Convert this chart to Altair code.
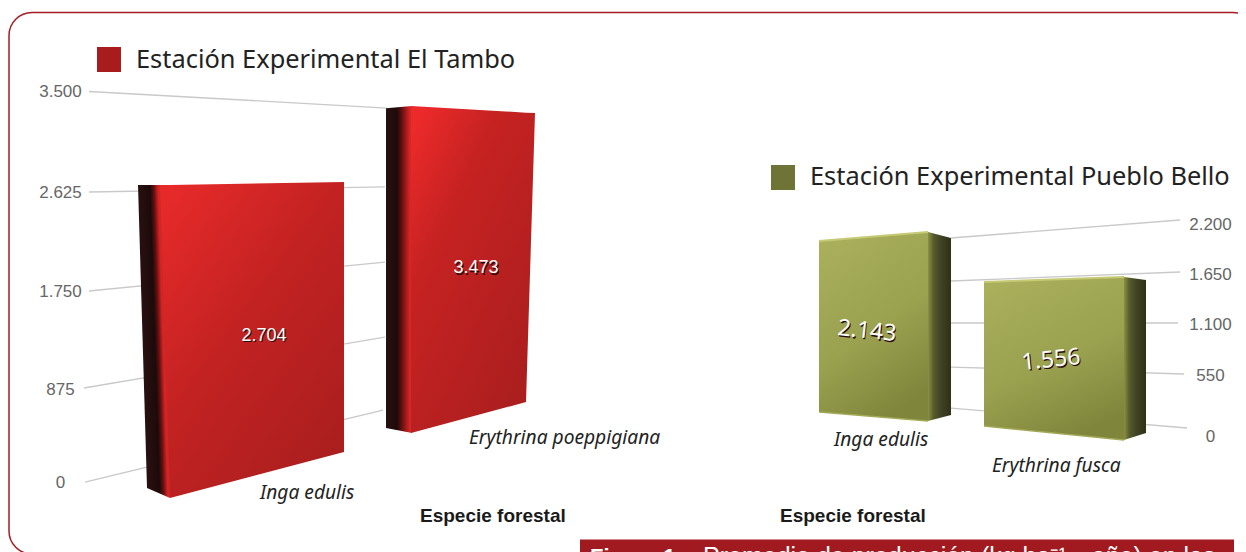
import altair as alt
import pandas as pd

# ---- values ----
left_title = "Estación Experimental El Tambo"
right_title = "Estación Experimental Pueblo Bello"
axis_title = "Especie forestal"
left_species = ["Inga edulis", "Erythrina poeppigiana"]
left_values = [2704, 3473]
left_ticks = [0, 875, 1750, 2625, 3500]
right_species = ["Inga edulis", "Erythrina fusca"]
right_values = [2143, 1556]
right_ticks = [0, 550, 1100, 1650, 2200]
caption_bold = "Figura 1."
caption_rest = "Promedio de producción (kg ha⁻¹\u2003año) en las"

W, H = 1230, 544
RED = "#a81c1e"
OLIVE = "#6f7436"
GREY = "#c9c9c9"


def dotted(v):
    return f"{v:,}".replace(",", ".")


LABEL_EXPR = "replace(format(datum.value, ','), ',', '.')"
X = alt.X("x:Q", scale=alt.Scale(domain=[8, 8 + W], range=[0, W]), axis=None)
YL = alt.Scale(domain=left_ticks, range=[474.5, 381, 283, 184, 83.5])
YR = alt.Scale(domain=right_ticks, range=[428, 367, 316, 266, 216])


def grad(stops, x1=0.0, y1=0.0, x2=1.0, y2=0.0):
    return alt.Gradient(
        gradient="linear", x1=x1, y1=y1, x2=x2, y2=y2,
        stops=[alt.GradientStop(offset=o, color=c) for o, c in stops],
    )


def axis(orient, offset, ticks):
    return alt.Axis(
        orient=orient, offset=offset, values=ticks, labelExpr=LABEL_EXPR,
        labelAlign="center", labelBaseline="middle", labelPadding=0,
        labelFont="Liberation Sans", labelFontSize=17, labelColor="#666666",
        labelOverlap=False, labelFlush=False, labelBound=False,
        ticks=False, domain=False, grid=False, title=None,
    )


AL = axis("left", -52, left_ticks)
AR = axis("right", -(W - 1202), right_ticks)


def face(value, edges, scale, ax, fill):
    """A perspective face of a bar: each edge is (lateral, top factor, base)."""
    rows = []
    for x, f, b in edges:
        top = value * f
        rows.append({"x": x, "top": top, "base": top if b is None else b})
    return (
        alt.Chart(pd.DataFrame(rows))
        .mark_area(fill=fill, interpolate="linear")
        .encode(x=X, y=alt.Y("top:Q", scale=scale, axis=ax), y2=alt.Y2("base:Q"))
    )


def rim(rows, scale, ax, color, width=2.0):
    df = pd.DataFrame([{"x": x, "top": u} for x, u in rows])
    return (
        alt.Chart(df)
        .mark_line(color=color, strokeWidth=width, interpolate="linear")
        .encode(x=X, y=alt.Y("top:Q", scale=scale, axis=ax))
    )


def grid(ticks, spans, scale, ax):
    rows = []
    for t, (x0, u0, x1, u1) in zip(ticks, spans):
        rows += [{"tick": t, "x": x0, "u": u0}, {"tick": t, "x": x1, "u": u1}]
    return (
        alt.Chart(pd.DataFrame(rows))
        .mark_line(color=GREY, strokeWidth=1.3)
        .encode(x=X, y=alt.Y("u:Q", scale=scale, axis=ax), detail="tick:N")
    )


def value_label(value, x, frac, scale, ax, font, size, angle=0):
    df = pd.DataFrame([{"x": x, "u": value * frac, "t": dotted(value)}])
    enc = dict(x=X, y=alt.Y("u:Q", scale=scale, axis=ax), text="t:N")
    base = dict(font=font, fontSize=size, angle=angle, align="center", baseline="middle")
    shadow = alt.Chart(df).mark_text(color="#2a0a0a", dx=1, dy=1.5, **base).encode(**enc)
    front = alt.Chart(df).mark_text(color="#ffffff", **base).encode(**enc)
    return alt.layer(shadow, front)


# ---- left panel ----
red_side = grad([(0, "#2a1010"), (0.34, "#1c0a0a"), (0.45, "#641010"), (0.57, "#d42424"), (1, "#d42424")],
                x2=1.0, y2=-0.31)
red_side2 = grad([(0, "#2a1010"), (0.42, "#1c0a0a"), (0.62, "#6a1010"), (0.92, "#d82626"), (1, "#d82626")])
red_front1 = grad([(0, "#e62a2a"), (0.45, "#c22222"), (1, "#a81e1e")], x1=0.1, y1=0.0, x2=0.9, y2=1.0)
red_front2 = grad([(0, "#ec2a2a"), (0.3, "#c62222"), (1, "#a81e1e")], x1=0.1, y1=0.0, x2=0.9, y2=1.0)

left = alt.layer(
    grid(
        left_ticks,
        [(85, 4, 383, 678), (84, 884, 385, 1339), (89, 1750, 385, 2006),
         (89, 2625, 385, 2669), (89, 3500, 387, 3356)],
        YL, AL,
    ),
    face(left_values[0], [(138, 0.9934, None), (147, 0.9934, -51), (170, 0.9934, -145)], YL, AL, red_side),
    face(left_values[0], [(160, 0.9934, None), (170, 0.9934, -145), (344, 1.003, 285)], YL, AL, red_front1),
    face(left_values[1], [(386, 0.966, 510), (412, 0.9714, 463)], YL, AL, red_side2),
    face(left_values[1], [(411, 0.9714, 463), (526, 0.9548, 753), (535, 0.954, None)], YL, AL, red_front2),
    value_label(left_values[0], 264, 0.5, YL, AL, "Liberation Sans", 18),
    value_label(left_values[1], 476, 0.562, YL, AL, "Liberation Sans", 18),
)

# ---- right panel ----
ol_front = grad([(0, "#a9af5b"), (0.55, "#9aa14f"), (1, "#7f863c")], x1=0.2, y1=0.0, x2=0.6, y2=1.0)
ol_side = grad([(0, "#8a9044"), (0.25, "#565a2c"), (0.6, "#3e4122"), (1, "#2f3118")])
RIM = "#c6ca74"
RIM_LOW = "#a4a956"

right = alt.layer(
    grid(
        right_ticks,
        [(951, 252, 1187, 72), (951, 636, 1184, 561), (951, 1111, 1178, 1111),
         (951, 1573, 1180, 1672), (951, 2046, 1180, 2244)],
        YR, AR,
    ),
    face(right_values[0], [(928, 0.9855, 135), (951, 0.955, 189)], YR, AR, ol_side),
    face(right_values[0], [(819, 0.939, 216), (928, 0.9855, 135)], YR, AR, ol_front),
    rim([(819, right_values[0] * 0.939), (928, right_values[0] * 0.9855)], YR, AR, RIM),
    rim([(819, 216), (928, 135)], YR, AR, RIM_LOW, 1.5),
    face(right_values[1], [(1124, 1.039, -36), (1146, 1.018, 27)], YR, AR, ol_side),
    face(right_values[1], [(984, 1.004, 90), (1124, 1.039, -36)], YR, AR, ol_front),
    rim([(984, right_values[1] * 1.004), (1124, right_values[1] * 1.039)], YR, AR, RIM),
    rim([(984, 90), (1124, -36)], YR, AR, RIM_LOW, 1.5),
    value_label(right_values[0], 867, 0.478, YR, AR, "Noto Sans", 23, angle=6),
    value_label(right_values[1], 1051, 0.458, YR, AR, "Noto Sans", 23, angle=354),
)

# ---- frame, legends, titles ----
one = pd.DataFrame({"a": [0]})
frame = alt.Chart(one).mark_rect(
    fill="transparent", stroke="#a51c24", strokeWidth=1.5, cornerRadius=23
).encode(x=alt.value(1), x2=alt.value(1248), y=alt.value(4.5), y2=alt.value(546))

swatches = alt.layer(
    alt.Chart(one).mark_rect(fill=RED).encode(
        x=alt.value(89), x2=alt.value(113), y=alt.value(39), y2=alt.value(64)
    ),
    alt.Chart(one).mark_rect(fill=OLIVE).encode(
        x=alt.value(763), x2=alt.value(787), y=alt.value(157), y2=alt.value(182)
    ),
)


def text(t, x, y, **kw):
    return alt.Chart(pd.DataFrame({"t": [t]})).mark_text(align="left", baseline="middle", **kw).encode(
        x=alt.value(x), y=alt.value(y), text="t:N"
    )


title_kw = dict(font="Noto Sans", fontSize=25.4, color="#222222")
species_kw = dict(font="Noto Sans", fontSize=19.2, fontStyle="italic", color="#222222")
axis_kw = dict(font="Liberation Sans", fontSize=19, fontWeight="bold", color="#1a1a1a")

labels = alt.layer(
    text(left_title, 128, 52, **title_kw),
    text(right_title, 802, 169, **title_kw),
    text(left_species[0], 252, 485, **species_kw),
    text(left_species[1], 461, 430, **species_kw),
    text(right_species[0], 826, 432, **species_kw),
    text(right_species[1], 984, 458, **species_kw),
    text(axis_title, 412, 508, **axis_kw),
    text(axis_title, 772, 508, **axis_kw),
)

caption = alt.layer(
    alt.Chart(one).mark_rect(fill="#a11a20").encode(
        x=alt.value(572), x2=alt.value(1226), y=alt.value(531.5), y2=alt.value(560)
    ),
    alt.Chart(pd.DataFrame({"t": [caption_bold]})).mark_text(
        align="left", baseline="alphabetic", font="Liberation Sans", fontSize=22,
        fontWeight="bold", color="#ffffff",
    ).encode(x=alt.value(582), y=alt.value(556), text="t:N"),
    alt.Chart(pd.DataFrame({"t": [caption_rest]})).mark_text(
        align="left", baseline="alphabetic", font="Liberation Sans", fontSize=25, color="#ffffff",
    ).encode(x=alt.value(695), y=alt.value(557), text="t:N"),
)

panels = alt.layer(left, right).resolve_scale(y="independent")

chart = (
    alt.layer(frame, swatches, panels, labels, caption)
    .properties(width=W, height=H, padding=0, background="#ffffff",
                autosize=alt.AutoSizeParams(type="none"))
    .configure_view(stroke=None)
)

chart.save("out.html", embed_options={"renderer": "svg", "actions": False})
